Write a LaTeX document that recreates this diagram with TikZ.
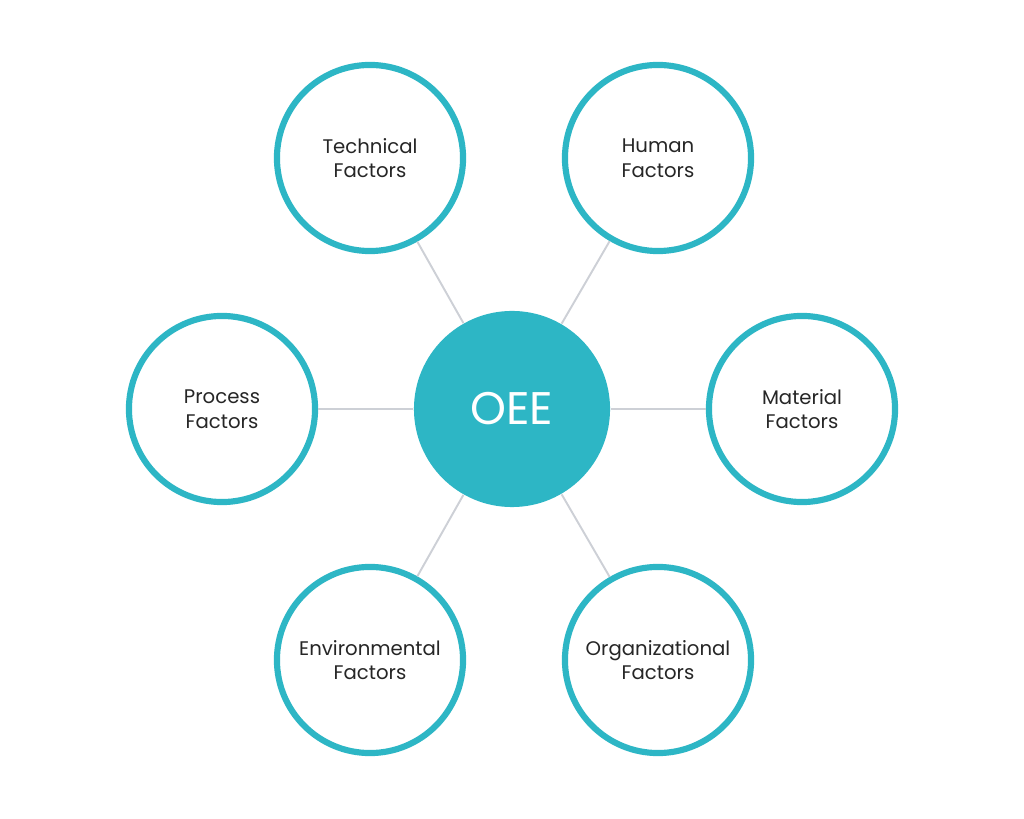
\documentclass[tikz,border=0pt]{standalone}
\usepackage{fontspec}
\setmainfont{Poppins}
\usetikzlibrary{positioning}
\definecolor{oeeteal}{HTML}{2DB6C5}
\definecolor{linkgray}{HTML}{CDD0D6}
\tikzset{factor/.style={circle,draw=oeeteal,line width=1.75pt,fill=white,minimum size=1.86cm,align=center,font=\fontsize{5.6}{7}\selectfont,text=black!85},
link/.style={draw=linkgray,line width=0.55pt}}
\begin{document}
\begin{tikzpicture}[x=0.01cm,y=-0.01cm]
\useasboundingbox (0,0) rectangle (1024,819);
\node[circle,fill=oeeteal,minimum size=1.96cm,text=white,font=\fontsize{13}{15}\selectfont](oee) at (512,409){OEE};
\node[factor](technical) at (370,158){Technical\\Factors};
\node[factor](human) at (658,158){Human\\Factors};
\node[factor](process) at (222,409){Process\\Factors};
\node[factor](material) at (802,409){Material\\Factors};
\node[factor](environmental) at (370,660){Environmental\\Factors};
\node[factor](organizational) at (658,660){Organizational\\Factors};
\foreach \f in {technical,human,process,material,environmental,organizational}
  \draw[link] (oee) -- (\f);
\end{tikzpicture}
\end{document}
